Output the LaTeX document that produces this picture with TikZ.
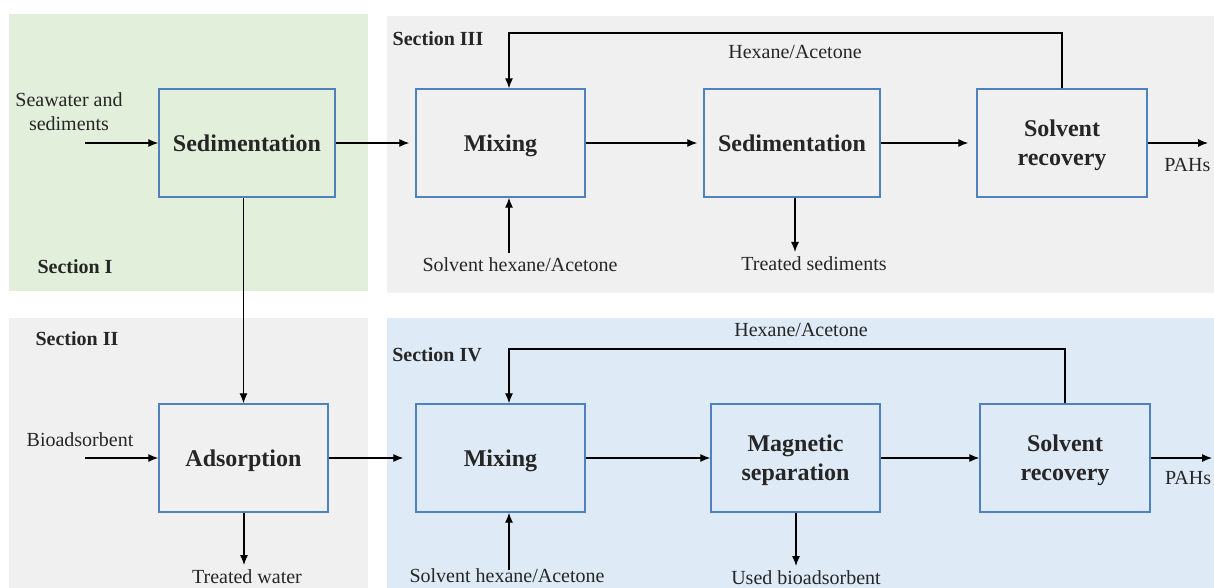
\documentclass[tikz,border=0pt]{standalone}
\usepackage{fontspec}
\setmainfont{Liberation Serif}
\usetikzlibrary{arrows.meta}

\definecolor{secgreen}{HTML}{E2EFDA}
\definecolor{secgray}{HTML}{F0F0F0}
\definecolor{secblue}{HTML}{DEEAF6}
\definecolor{boxline}{HTML}{4F81BD}
\definecolor{txt}{HTML}{262626}

\tikzset{
  unit/.style={draw=boxline, line width=0.7pt, minimum height=54pt, minimum width=88pt,
    align=center, font=\fontsize{12}{14.5}\selectfont\bfseries, text=txt, text depth=0pt},
  flow/.style={-{Latex[length=5pt,width=4pt]}, line width=0.6pt},
  lbl/.style={font=\fontsize{10}{12}\selectfont, text=txt, align=center},
  sec/.style={font=\fontsize{10}{12}\selectfont\bfseries, text=txt}
}

\begin{document}
\begin{tikzpicture}[x=0.5pt, y=-0.5pt]
   \useasboundingbox (0,0) rectangle (1214,588);
   \clip (0,0) rectangle (1214,588);

   % section backgrounds
   \fill[secgreen] (9,14) rectangle (368,291);
   \fill[secgray] (387,16) rectangle (1214,293);
   \fill[secgray] (9,318) rectangle (368,588);
   \fill[secblue] (387,318) rectangle (1214,588);

   \node[sec] (secI) at (75,267) {Section I};
   \node[sec] (secII) at (77,339) {Section II};
   \node[sec] (secIII) at (438,39) {Section III};
   \node[sec] (secIV) at (437,355) {Section IV};

   % Section I and III
   \node[unit] (sedI) at (247,143) {Sedimentation};
   \node[unit, minimum width=84.5pt] (mixIII) at (500.5,143) {Mixing};
   \node[unit] (sedIII) at (792,143) {Sedimentation};
   \node[unit, minimum width=85pt] (recIII) at (1062,143) {Solvent\\recovery};

   \coordinate (inI) at (85,143);
   \node[lbl] (seawater) at (69,112) {Seawater and\\sediments};
   \draw[flow] (inI) -- (sedI.west);
   \draw[flow, shorten >=3pt] (sedI) -- (mixIII);
   \draw[flow, shorten >=3pt] (mixIII) -- (sedIII);
   \draw[flow, shorten >=4pt] (sedIII) -- (recIII);

   \coordinate (outIII) at (1208,143);
   \node[lbl, anchor=west, inner sep=0pt] (pahIII) at (1164,165) {PAHs};
   \draw[flow] (recIII.east) -- (outIII);

   \coordinate (loopIII) at (509,33);
   \node[lbl] (hexIII) at (795,52) {Hexane/Acetone};
   \draw[flow] (recIII.north) |- (loopIII) -- (loopIII |- mixIII.north);

   \coordinate (solvIII) at (509,253);
   \node[lbl] (solvlblIII) at (520,265) {Solvent hexane/Acetone};
   \draw[flow] (solvIII) -- (solvIII |- mixIII.south);

   \coordinate (sedout) at (795,252);
   \node[lbl] (sedlbl) at (814,264) {Treated sediments};
   \draw[flow] (sedout |- sedIII.south) -- (sedout);

   % Section II and IV
   \node[unit, minimum width=84.5pt] (adsII) at (243.5,458) {Adsorption};
   \node[unit, minimum width=84.5pt] (mixIV) at (500.5,458) {Mixing};
   \node[unit, minimum width=84.5pt] (magIV) at (795.5,458) {Magnetic\\separation};
   \node[unit, minimum width=85pt] (recIV) at (1065,458) {Solvent\\recovery};

   \draw[flow] (sedI.south -| adsII) -- (adsII.north);

   \coordinate (inII) at (85,458);
   \node[lbl] (bioads) at (80,440) {Bioadsorbent};
   \draw[flow] (inII) -- (adsII.west);
   \draw[flow, shorten >=6pt] (adsII) -- (mixIV);
   \draw[flow] (mixIV) -- (magIV);
   \draw[flow] (magIV) -- (recIV);

   \coordinate (outIV) at (1212,458);
   \node[lbl, anchor=west] (pahIV) at (1158,478) {PAHs};
   \draw[flow] (recIV.east) -- (outIV);

   \coordinate (loopIV) at (509,349);
   \node[lbl] (hexIV) at (801,330) {Hexane/Acetone};
   \draw[flow] (recIV.north) |- (loopIV) -- (loopIV |- mixIV.north);

   \coordinate (solvIV) at (509,570);
   \node[lbl] (solvlblIV) at (507,576) {Solvent hexane/Acetone};
   \draw[flow] (solvIV) -- (solvIV |- mixIV.south);

   \coordinate (waterout) at (244,565);
   \node[lbl] (waterlbl) at (247,577) {Treated water};
   \draw[flow] (waterout |- adsII.south) -- (waterout);

   \coordinate (bioout) at (796,566);
   \node[lbl] (biolbl) at (806,578) {Used bioadsorbent};
   \draw[flow] (bioout |- magIV.south) -- (bioout);
\end{tikzpicture}
\end{document}
